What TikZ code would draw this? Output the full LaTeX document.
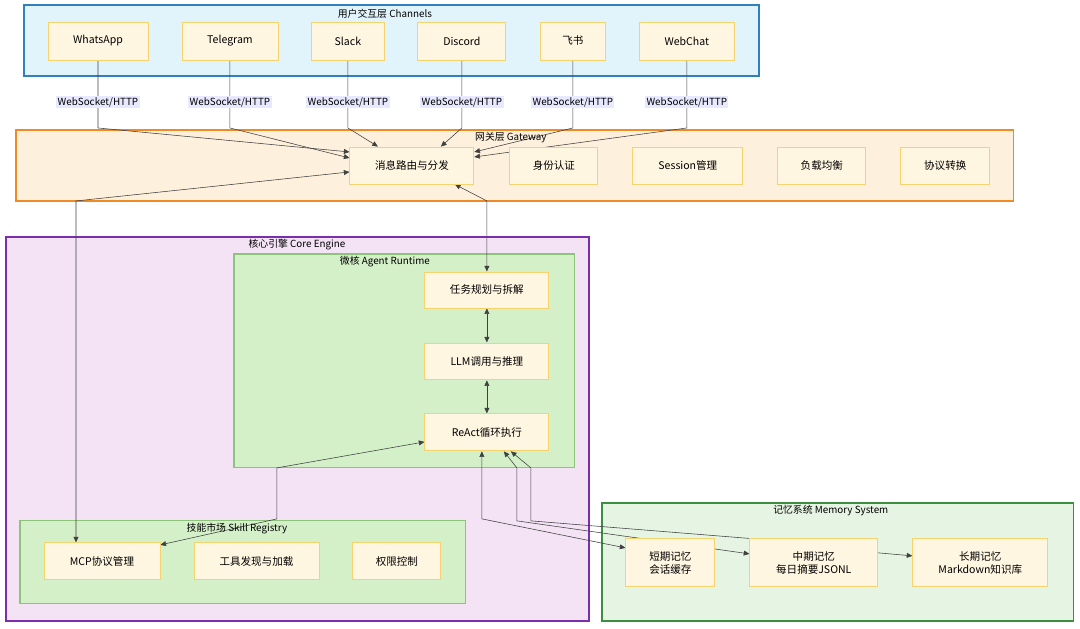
\documentclass[tikz,border=0pt]{standalone}
\usepackage{fontspec}
\setmainfont{Noto Sans CJK SC}
\usetikzlibrary{positioning,arrows.meta,backgrounds}
\pgfdeclarelayer{edges}
\pgfsetlayers{background,edges,main}
\definecolor{chfill}{HTML}{E2F4FB}\definecolor{chline}{HTML}{2F7FC1}
\definecolor{gwfill}{HTML}{FDF0DC}\definecolor{gwline}{HTML}{F08A24}
\definecolor{cefill}{HTML}{F3E3F5}\definecolor{celine}{HTML}{7B2FB0}
\definecolor{rtfill}{HTML}{D4F0C8}\definecolor{rtline}{HTML}{8CC47A}
\definecolor{mmfill}{HTML}{E6F4E3}\definecolor{mmline}{HTML}{3E8E41}
\definecolor{bxfill}{HTML}{FFF6E2}\definecolor{bxline}{HTML}{F6D36E}
\definecolor{lbfill}{HTML}{E8E8FF}
\tikzset{
  box/.style={draw=bxline,fill=bxfill,line width=0.6pt,align=center,font=\fontsize{7.5}{9}\selectfont,inner sep=0pt},
  lay/.style={font=\fontsize{7}{8}\selectfont},
  lbl/.style={fill=lbfill,font=\fontsize{7}{8}\selectfont,inner sep=1pt},
  conn/.style={draw=black!75,line width=0.4pt,-{Triangle[length=4pt,width=3.5pt]}},
  bconn/.style={conn,{Triangle[length=4pt,width=3.5pt]}-{Triangle[length=4pt,width=3.5pt]}}
}
\newcommand{\bx}[6]{\node[box,minimum width=#4*0.025cm,minimum height=#5*0.025cm] (#1) at (#2*0.025,-#3*0.025) {#6};}
\begin{document}
\begin{tikzpicture}[x=1cm,y=1cm]
\useasboundingbox (0,0) rectangle (27,-15.7);
\begin{pgfonlayer}{background}
\begin{scope}[x=0.025cm,y=-0.025cm]
% frames
\draw[fill=chfill,draw=chline,line width=1pt] (24,5) rectangle (759,76);
\node[lay] at (385,14) {用户交互层 Channels};
\draw[fill=gwfill,draw=gwline,line width=1pt] (16,130) rectangle (1014,201);
\draw[fill=cefill,draw=celine,line width=1pt] (6,237) rectangle (589,621);
\node[lay] at (297,245) {核心引擎 Core Engine};
\draw[fill=rtfill,draw=rtline,line width=0.8pt] (234,254) rectangle (575,468);
\node[lay] at (385,262) {微核 Agent Runtime};
\draw[fill=rtfill,draw=rtline,line width=0.8pt] (20,521) rectangle (466,604);
\draw[fill=mmfill,draw=mmline,line width=1pt] (602,503) rectangle (1074,621);
\node[lay] at (831,511) {记忆系统 Memory System};
\end{scope}
\end{pgfonlayer}

% channels
\bx{wa}{98}{41}{100}{38}{WhatsApp}
\bx{tg}{230}{41}{96}{38}{Telegram}
\bx{sl}{348}{41}{74}{38}{Slack}
\bx{dc}{462}{41}{88}{38}{Discord}
\bx{fs}{573}{41}{65}{38}{飞书}
\bx{wc}{687}{41}{95}{38}{WebChat}
% gateway
\bx{route}{412}{165.5}{124}{37}{消息路由与分发}
\bx{auth}{554}{165.5}{88}{37}{身份认证}
\bx{sess}{688}{165.5}{110}{37}{Session管理}
\bx{lb}{822}{165.5}{88}{37}{负载均衡}
\bx{proto}{945.5}{165.5}{89}{37}{协议转换}
% runtime
\bx{plan}{487}{290}{124}{36}{任务规划与拆解}
\bx{llm}{487}{361.5}{124}{37}{LLM调用与推理}
\bx{react}{487}{432.5}{124}{37}{ReAct循环执行}
% skills
\bx{mcp}{102}{561.5}{116}{37}{MCP协议管理}
\bx{tool}{256.5}{561.5}{125}{37}{工具发现与加载}
\bx{perm}{397}{561.5}{88}{37}{权限控制}
% memory
\bx{short}{670.5}{563}{89}{48}{短期记忆\\会话缓存}
\bx{mid}{814}{563}{128}{48}{中期记忆\\每日摘要JSONL}
\bx{long}{980.5}{563}{135}{48}{长期记忆\\Markdown知识库}

\begin{pgfonlayer}{edges}
\begin{scope}[x=0.025cm,y=-0.025cm]
\draw[conn] (wa.south) -- (98,128) -- (route.west|-0,152);
\draw[conn] (tg.south) -- (230,128) -- (route.west|-0,158);
\draw[conn] (sl.south) -- (348,128) -- (route.north-|378,0);
\draw[conn] (dc.south) -- (462,128) -- (route.north-|441,0);
\draw[conn] (fs.south) -- (573,128) -- (route.east|-0,152);
\draw[conn] (wc.south) -- (687,128) -- (route.east|-0,157);
\draw[bconn] (route.south-|455,0) -- (487,201) -- (plan.north);
\draw[bconn] (route.west|-0,172) -- (76,201) -- (mcp.north-|76,0);
\draw[bconn] (plan) -- (llm);
\draw[bconn] (llm) -- (react);
\draw[bconn] (mcp.east|-0,545) -- (277,519) -- (277,468) -- (react.west|-0,442);
\draw[bconn] (react.south-|482,0) -- (482,519) -- (short.west|-0,548);
\draw[bconn] (react.south-|504,0) -- (517,468) -- (517,521) -- (mid.west|-0,554);
\draw[conn] (mid.north-|750,0) -- (531,521) -- (531,468) -- (react.south-|511,0);
\draw[conn] (mid.east|-0,553) -- (long.west|-0,556);
\end{scope}
\end{pgfonlayer}
\begin{scope}[x=0.025cm,y=-0.025cm]
\foreach \x in {98,230,348,462,573,687}
  \node[lbl] at (\x,102) {WebSocket/HTTP};
\node[lay] at (511,138) {网关层 Gateway};
\node[lay] at (237,529) {技能市场 Skill Registry};
\end{scope}
\end{tikzpicture}
\end{document}
